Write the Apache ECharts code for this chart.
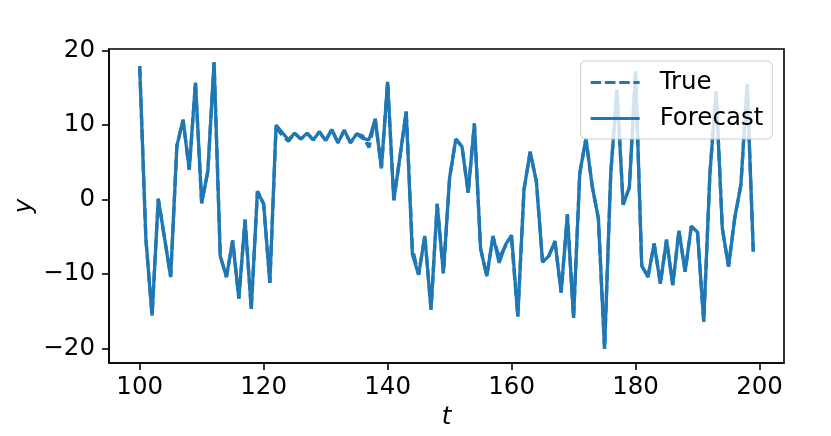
<!DOCTYPE html>
<html>
<head>
<meta charset="utf-8">
<script src="https://cdn.jsdelivr.net/npm/echarts@6/dist/echarts.min.js"></script>
<style>
html,body{margin:0;padding:0;background:#fff;}
#c{width:831px;height:436px;}
</style>
</head>
<body>
<div id="c"></div>
<script>
const steps = [100,101,102,103,104,105,106,107,108,109,110,111,112,113,114,115,116,117,118,119,
120,121,122,123,124,125,126,127,128,129,130,131,132,133,134,135,136,137,138,139,
140,141,142,143,144,145,146,147,148,149,150,151,152,153,154,155,156,157,158,159,
160,161,162,163,164,165,166,167,168,169,170,171,172,173,174,175,176,177,178,179,
180,181,182,183,184,185,186,187,188,189,190,191,192,193,194,195,196,197,198,199];

const forecastValues = [17.9,-5.3,-15.6,0.1,-5.1,-10.4,7.2,10.7,4.0,15.7,-0.5,3.8,18.4,-7.6,-10.4,-5.5,-13.3,-2.7,-14.7,1.1,
-0.6,-11.2,10.0,9.0,8.0,8.9,8.1,8.9,8.0,9.1,7.9,9.4,7.6,9.3,7.6,8.8,8.2,8.0,10.8,4.2,
15.8,-0.1,5.8,11.8,-7.4,-10.1,-4.9,-14.8,-0.6,-9.9,2.9,8.1,7.1,0.9,10.2,-6.6,-10.3,-4.9,-8.5,-6.1,
-4.8,-15.7,1.3,6.4,2.4,-8.4,-7.6,-5.6,-12.5,-2.0,-15.9,3.5,8.2,1.8,-2.5,-20.05,3.5,14.7,-0.7,1.6,
17.2,-8.9,-10.4,-5.9,-11.3,-5.4,-11.5,-4.2,-9.7,-3.6,-4.4,-16.4,3.5,14.5,-3.9,-9.0,-2.5,2.0,15.5,-7.0];

const trueValues = [17.9,-5.3,-15.6,0.1,-5.1,-10.4,7.2,10.7,4.0,15.7,-0.5,3.8,18.4,-7.6,-10.4,-5.5,-13.3,-2.7,-14.7,1.1,
-0.6,-11.2,9.6,8.6,7.8,8.9,8.1,8.9,8.0,9.1,7.9,9.4,7.6,9.3,7.6,8.8,8.5,7.0,10.8,4.2,
15.8,-0.1,5.8,11.8,-6.6,-10.1,-4.9,-14.8,-0.6,-9.9,2.9,8.1,7.1,0.9,10.2,-6.6,-10.3,-5.0,-7.8,-6.3,
-5.4,-15.7,1.3,6.4,2.4,-8.4,-7.6,-5.6,-12.5,-2.0,-15.9,3.5,8.2,1.8,-2.5,-20.05,3.5,14.7,-0.7,1.6,
17.2,-8.9,-10.4,-5.9,-11.3,-5.4,-11.5,-4.2,-9.7,-3.6,-4.4,-16.4,3.5,14.5,-3.9,-9.0,-2.5,2.0,15.5,-7.0];

const xTicks = [100,120,140,160,180,200];
const yTicks = [-20,-10,0,10,20];
const seriesNames = ['True','Forecast'];

const trueData = steps.map((s,i)=>[s,trueValues[i]]);
const forecastData = steps.map((s,i)=>[s,forecastValues[i]]);

const FONT = 'DejaVu Sans';
const FS = 24.5;
const BLUE = '#1f77b4';
const minus = v => String(v).replace('-', '\u2212');
const dashIcon = 'path://M0,0h10.5v3h-10.5zM14.3,0h10.5v3h-10.5zM28.6,0h10.5v3h-10.5zM42.9,0h6.1v3h-6.1z';
const solidIcon = 'path://M0,0h49v3h-49z';

const chart = echarts.init(document.getElementById('c'), null, {renderer:'canvas'});
chart.setOption({
  animation:false,
  backgroundColor:'#ffffff',
  grid:{left:109,right:47,top:49,bottom:73,show:true,borderColor:'#000',borderWidth:1.6,backgroundColor:'transparent'},
  xAxis:{
    type:'value',min:95.05,max:203.95,
    name:'t',nameLocation:'middle',nameGap:40,
    nameTextStyle:{fontFamily:FONT,fontStyle:'italic',fontSize:FS,color:'#000'},
    axisLine:{show:true,onZero:false,lineStyle:{color:'#000',width:1.6}},
    splitLine:{show:false},
    axisTick:{show:true,inside:false,length:7,lineStyle:{color:'#000',width:1.6},customValues:xTicks},
    axisLabel:{margin:12,fontFamily:FONT,fontSize:FS,color:'#000',customValues:xTicks,formatter:minus}
  },
  yAxis:{
    type:'value',min:-21.95,max:20.2,
    name:'y',nameLocation:'middle',nameGap:72,nameRotate:90,nameMoveOverlap:false,
    nameTextStyle:{fontFamily:FONT,fontStyle:'italic',fontSize:FS,color:'#000'},
    axisLine:{show:true,onZero:false,lineStyle:{color:'#000',width:1.6}},
    splitLine:{show:false},
    axisTick:{show:true,inside:false,length:7,lineStyle:{color:'#000',width:1.6},customValues:yTicks},
    axisLabel:{margin:14,fontFamily:FONT,fontSize:FS,color:'#000',customValues:yTicks,formatter:minus}
  },
  legend:{
    orient:'vertical',right:58.7,top:61,z:10,
    data:[{name:seriesNames[0],icon:dashIcon},{name:seriesNames[1],icon:solidIcon}],
    backgroundColor:'rgba(255,255,255,0.8)',
    borderColor:'#cccccc',borderWidth:1,borderRadius:5,
    padding:[9,9,8,10],itemGap:11,itemWidth:49,itemHeight:3,
    itemStyle:{borderWidth:0},
    textStyle:{fontFamily:FONT,fontSize:FS,color:'#000',padding:[0,0,0,15]}
  },
  series:[
    {name:seriesNames[0],type:'line',data:trueData,showSymbol:false,symbol:'none',
     lineStyle:{color:BLUE,width:3.3,type:[11,4.8]},itemStyle:{color:BLUE},z:2},
    {name:seriesNames[1],type:'line',data:forecastData,showSymbol:false,symbol:'none',
     lineStyle:{color:BLUE,width:3.3,type:'solid'},itemStyle:{color:BLUE},z:3}
  ]
});
</script>
</body>
</html>
